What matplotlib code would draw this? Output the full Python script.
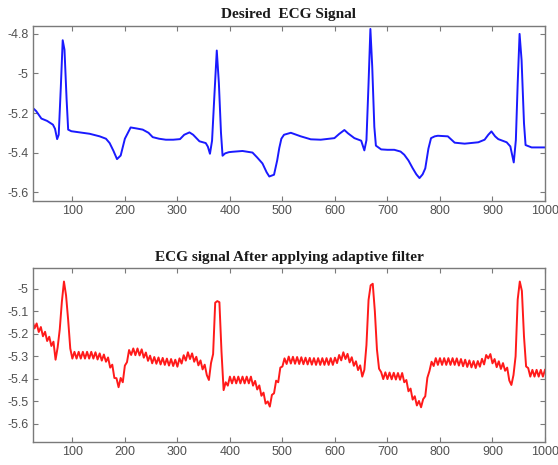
import matplotlib
matplotlib.use("Agg")
import matplotlib.pyplot as plt
import numpy as np
from matplotlib.ticker import FuncFormatter

# desired ECG (blue) - vertices
blue_x = [25, 31, 41, 52, 63, 67, 71, 74, 78, 81.6, 85, 89, 92, 98, 114, 133, 152, 164,
          171, 178, 185, 192, 200, 211, 222, 234, 245, 253, 265, 278, 292, 305, 313, 323,
          330, 342, 354, 358, 362, 366, 370, 375, 379, 383, 386, 391, 398, 405, 424, 443,
          452, 462, 470, 475, 484, 490, 494, 498, 503, 516, 535, 554, 573, 599, 608, 618,
          625, 637, 650, 656, 660, 664, 667.5, 671, 675, 678, 688, 700, 713, 725, 732, 740,
          748, 755, 761, 767, 772, 778, 783, 790, 796, 815, 828, 847, 873, 885, 892, 898,
          905, 911, 927, 934, 940.5, 944.5, 948, 951.6, 955.4, 960, 963, 974.5, 1000]
blue_y = [-5.175, -5.190, -5.228, -5.240, -5.259, -5.280, -5.332, -5.310, -5.070, -4.832,
          -4.880, -5.130, -5.284, -5.292, -5.298, -5.305, -5.318, -5.330, -5.352, -5.390,
          -5.433, -5.415, -5.330, -5.273, -5.278, -5.284, -5.300, -5.322, -5.330, -5.335,
          -5.335, -5.332, -5.310, -5.298, -5.310, -5.343, -5.352, -5.370, -5.406, -5.340,
          -5.134, -4.884, -5.050, -5.300, -5.416, -5.404, -5.398, -5.396, -5.392, -5.400,
          -5.425, -5.455, -5.500, -5.521, -5.512, -5.440, -5.377, -5.330, -5.310, -5.300,
          -5.318, -5.333, -5.335, -5.327, -5.306, -5.286, -5.303, -5.327, -5.340, -5.389,
          -5.337, -5.050, -4.775, -4.965, -5.270, -5.365, -5.384, -5.386, -5.386, -5.395,
          -5.411, -5.440, -5.479, -5.510, -5.529, -5.510, -5.480, -5.380, -5.327, -5.318,
          -5.315, -5.318, -5.350, -5.355, -5.348, -5.335, -5.310, -5.293, -5.318, -5.332,
          -5.348, -5.369, -5.450, -5.337, -5.050, -4.800, -4.932, -5.252, -5.362, -5.374,
          -5.374]

# filtered ECG (red) - one value every 4 samples, from 24 to 1000
red_start, red_step = 24, 4
red_y = [
    -5.140, -5.176, -5.154, -5.192, -5.170, -5.211, -5.191, -5.232, -5.213, -5.254,  # 24-60
    -5.235, -5.315, -5.260, -5.180, -5.058, -4.968, -5.030, -5.139, -5.265, -5.310,  # 64-100
    -5.280, -5.310, -5.280, -5.310, -5.280, -5.310, -5.280, -5.310, -5.280, -5.310,  # 104-140
    -5.282, -5.314, -5.287, -5.319, -5.292, -5.324, -5.305, -5.350, -5.337, -5.396,  # 144-180
    -5.397, -5.437, -5.396, -5.415, -5.341, -5.326, -5.272, -5.294, -5.265, -5.295,  # 184-220
    -5.265, -5.296, -5.269, -5.306, -5.283, -5.320, -5.297, -5.331, -5.303, -5.333,  # 224-260
    -5.305, -5.336, -5.307, -5.338, -5.310, -5.341, -5.312, -5.343, -5.315, -5.346,  # 264-300
    -5.309, -5.332, -5.295, -5.319, -5.282, -5.312, -5.287, -5.324, -5.302, -5.340,  # 304-340
    -5.318, -5.358, -5.337, -5.383, -5.405, -5.330, -5.290, -5.062, -5.055, -5.060,  # 344-380
    -5.280, -5.450, -5.415, -5.430, -5.390, -5.420, -5.390, -5.420, -5.390, -5.420,  # 384-420
    -5.390, -5.420, -5.390, -5.420, -5.390, -5.430, -5.409, -5.447, -5.429, -5.475,  # 424-460
    -5.461, -5.510, -5.500, -5.523, -5.471, -5.464, -5.408, -5.415, -5.350, -5.345,  # 464-500
    -5.309, -5.334, -5.301, -5.332, -5.302, -5.333, -5.303, -5.334, -5.304, -5.335,  # 504-540
    -5.306, -5.336, -5.307, -5.337, -5.308, -5.338, -5.308, -5.338, -5.308, -5.338,  # 544-580
    -5.308, -5.338, -5.308, -5.338, -5.306, -5.330, -5.294, -5.318, -5.282, -5.312,  # 584-620
    -5.289, -5.327, -5.304, -5.342, -5.322, -5.361, -5.340, -5.390, -5.360, -5.250,  # 624-660
    -5.050, -4.985, -4.978, -5.100, -5.270, -5.355, -5.370, -5.401, -5.371, -5.401,  # 664-700
    -5.372, -5.402, -5.373, -5.403, -5.374, -5.404, -5.374, -5.415, -5.405, -5.455,  # 704-740
    -5.443, -5.492, -5.477, -5.518, -5.498, -5.526, -5.490, -5.477, -5.395, -5.365,  # 744-780
    -5.324, -5.343, -5.308, -5.338, -5.308, -5.338, -5.308, -5.338, -5.308, -5.338,  # 784-820
    -5.308, -5.338, -5.309, -5.341, -5.312, -5.344, -5.315, -5.347, -5.318, -5.349,  # 824-860
    -5.321, -5.352, -5.321, -5.346, -5.311, -5.336, -5.294, -5.309, -5.290, -5.331,  # 864-900
    -5.312, -5.348, -5.322, -5.356, -5.330, -5.364, -5.350, -5.407, -5.427, -5.383,  # 904-940
    -5.300, -5.048, -4.968, -5.010, -5.212, -5.345, -5.352, -5.390, -5.360, -5.390,  # 944-980
    -5.360, -5.390, -5.360, -5.390, -5.360,  # 984-1000
]
red_x = red_start + red_step * np.arange(len(red_y))

top_title = "Desired  ECG Signal"
bottom_title = "ECG signal After applying adaptive filter"
x_ticks = [100, 200, 300, 400, 500, 600, 700, 800, 900, 1000]
top_yticks = [-5.6, -5.4, -5.2, -5.0, -4.8]
bottom_yticks = [-5.6, -5.5, -5.4, -5.3, -5.2, -5.1, -5.0]

plt.rcParams["axes.unicode_minus"] = False
plt.rcParams["font.family"] = ["Liberation Sans", "DejaVu Sans"]

fig = plt.figure(figsize=(5.58, 4.65), dpi=100)
ax1 = fig.add_axes([0.0591, 0.5677, 0.9176, 0.3764])
ax2 = fig.add_axes([0.0591, 0.0495, 0.9176, 0.3742])

fmt = FuncFormatter(lambda v, p: f"{v:g}")


def style(ax, yticks, title, pad):
    ax.set_xlim(25, 1000)
    ax.set_xticks(x_ticks)
    ax.set_yticks(yticks)
    ax.yaxis.set_major_formatter(fmt)
    ax.tick_params(direction="in", length=3.5, width=0.8, colors="#7a7a7a",
                   labelcolor="#505050", labelsize=9.0, top=True, right=True, pad=3)
    for s in ax.spines.values():
        s.set_color("#7a7a7a")
        s.set_linewidth(1.0)
    ax.set_title(title, fontfamily="Liberation Serif", fontweight="bold",
                 fontsize=11, pad=pad, color="#1a1a1a")


ax1.plot(blue_x, blue_y, color="#1a1aff", lw=1.4)
ax1.set_ylim(-5.645, -4.76)
style(ax1, top_yticks, top_title, 6)

ax2.plot(red_x, red_y, color="#ff1a1a", lw=1.4)
ax2.set_ylim(-5.68, -4.908)
style(ax2, bottom_yticks, bottom_title, 5)

fig.savefig("out.png", dpi=100)
